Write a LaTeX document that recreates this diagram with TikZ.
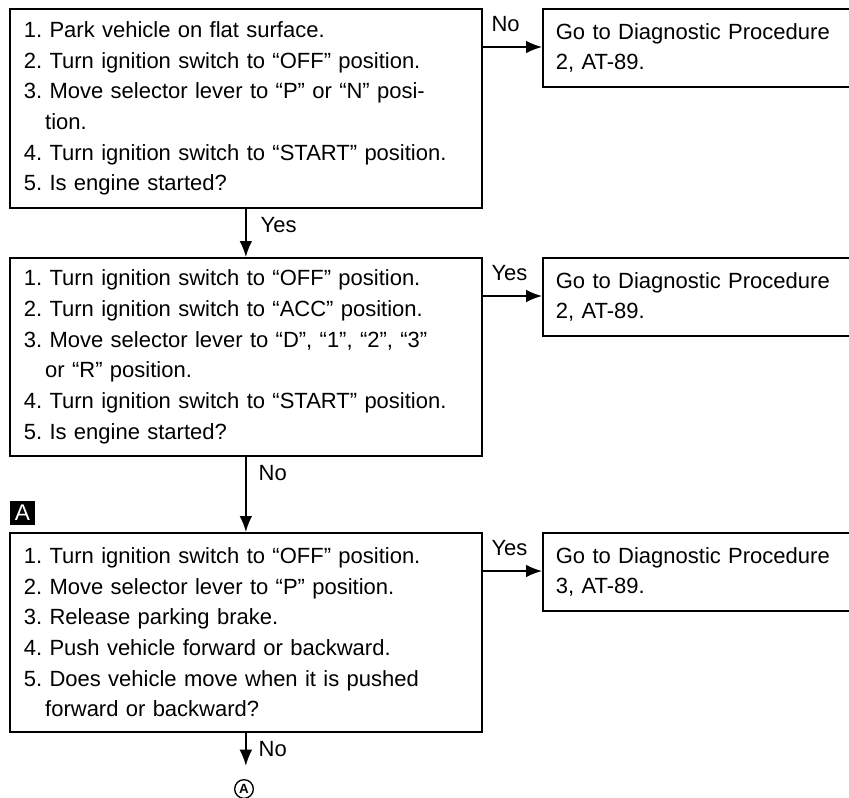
\documentclass[tikz,border=0pt]{standalone}
\usepackage{fontspec}
\setmainfont{Liberation Sans}
\usetikzlibrary{positioning,arrows.meta}
\frenchspacing
\begin{document}
\begin{tikzpicture}[x=0.75pt, y=-0.75pt,
    font=\fontsize{16.5pt}{23pt}\selectfont,
    stepbox/.style={draw, line width=1.3pt, anchor=north west, align=left, inner xsep=10.5pt, inner ysep=0pt, text width=333pt},
    gobox/.style={draw, line width=1.3pt, anchor=north west, align=left, inner xsep=9.75pt, inner ysep=0pt, text width=235pt, minimum height=58.5pt},
    flow/.style={line width=1.2pt, -{Latex[length=12pt, width=9.5pt]}},
    answer/.style={anchor=base west, inner sep=0pt}]
    \useasboundingbox (0,0) rectangle (849,797);
    \clip (0,0) rectangle (849,797);
    % left column: checks
    \node (step1) at (9,8) [stepbox, minimum height=149.25pt] {1. Park vehicle on flat surface.\\ 2. Turn ignition switch to “OFF” position.\\ 3. Move selector lever to “P” or “N” posi-\\ \hspace*{16pt}tion.\\ 4. Turn ignition switch to “START” position.\\ 5. Is engine started?};
    \node (step2) at (9,257) [stepbox, minimum height=148.5pt] {1. Turn ignition switch to “OFF” position.\\ 2. Turn ignition switch to “ACC” position.\\ 3. Move selector lever to “D”, “1”, “2”, “3”\\ \hspace*{16pt}or “R” position.\\ 4. Turn ignition switch to “START” position.\\ 5. Is engine started?};
    \node (step3) at (9,532) [stepbox, minimum height=149.25pt] {1. Turn ignition switch to “OFF” position.\\ 2. Move selector lever to “P” position.\\ 3. Release parking brake.\\ 4. Push vehicle forward or backward.\\ 5. Does vehicle move when it is pushed\\ \hspace*{16pt}forward or backward?};
    % right column: procedures
    \node (go1) at (542,8) [gobox] {Go to Diagnostic Procedure\\ 2, AT-89.};
    \node (go2) at (542,257) [gobox] {Go to Diagnostic Procedure\\ 2, AT-89.};
    \node (go3) at (542,532) [gobox] {Go to Diagnostic Procedure\\ 3, AT-89.};
    % marks
    \node (markA) at (22.5,513) [fill=black, text=white, minimum width=19pt, minimum height=18pt, inner sep=0pt, font=\fontsize{17pt}{17pt}\selectfont] {A};
    \node (circA) at (244,789) [draw, circle, line width=1pt, inner sep=0.5pt, minimum size=14pt, font=\fontsize{10pt}{10pt}\selectfont\bfseries] {A};
    \coordinate (endA) at ([yshift=-24.75pt]step3.south);
    % arrows
    \draw[flow] ([yshift=-29.25pt]step1.north east) -- node[answer, pos=0, xshift=6pt, yshift=12pt] {No} ([yshift=-29.25pt]go1.north west);
    \draw[flow] ([yshift=-29.25pt]step2.north east) -- node[answer, pos=0, xshift=6pt, yshift=12pt] {Yes} ([yshift=-29.25pt]go2.north west);
    \draw[flow] ([yshift=-29.25pt]step3.north east) -- node[answer, pos=0, xshift=6pt, yshift=12pt] {Yes} ([yshift=-29.25pt]go3.north west);
    \draw[flow] (step1.south) -- node[answer, pos=0, xshift=10.5pt, yshift=-18pt] {Yes} (step2.north);
    \draw[flow] (step2.south) -- node[answer, pos=0, xshift=9pt, yshift=-18pt] {No} (step3.north);
    \draw[flow] (step3.south) -- node[answer, pos=0, xshift=9pt, yshift=-18pt] {No} (endA);
\end{tikzpicture}
\end{document}
